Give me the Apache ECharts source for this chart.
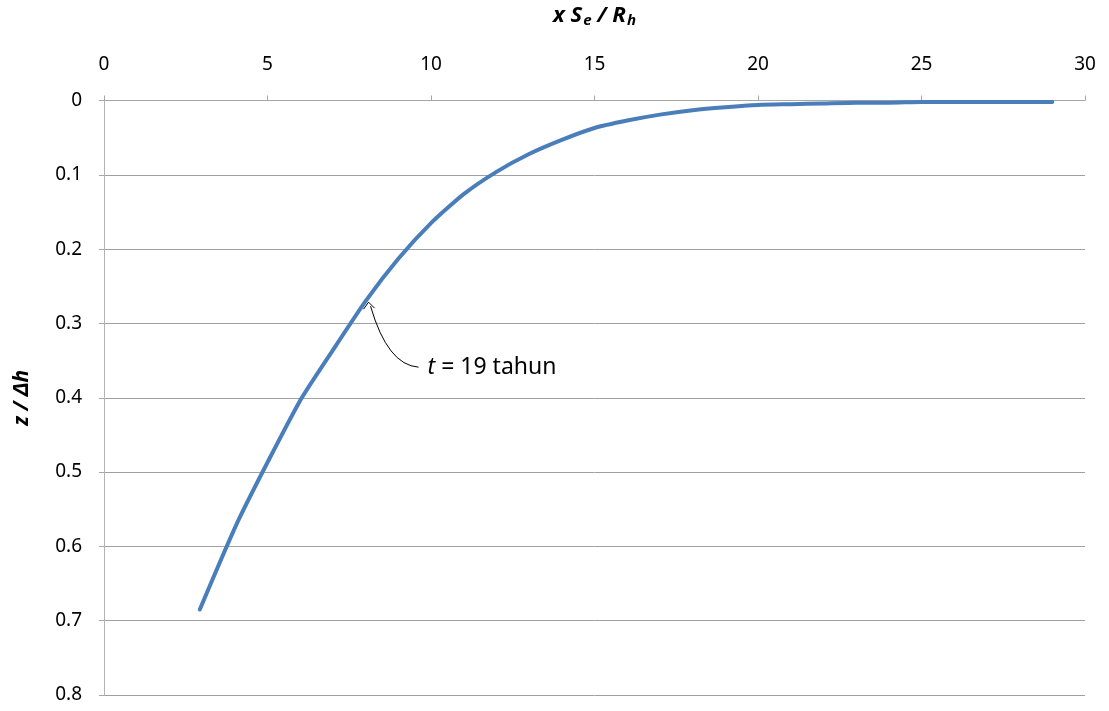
<!DOCTYPE html>
<html>
<head>
<meta charset="utf-8">
<script src="https://cdn.jsdelivr.net/npm/echarts@6/dist/echarts.min.js"></script>
<style>
    html, body { margin: 0; padding: 0; background: #ffffff; }
    #chart { width: 1109px; height: 711px; }
</style>
</head>
<body>
<div id="chart"></div>
<script>
    // x S_e / R_h
    var xValues = [2.93, 4.13, 5.97, 7, 8, 9, 10, 11, 12, 13, 14, 15, 16, 17, 18, 19, 20, 21, 22, 23, 24, 25, 26, 27, 28, 29];
    // z / dh
    var zValues = [0.685, 0.563, 0.406, 0.336, 0.27, 0.213, 0.165, 0.126, 0.096, 0.072, 0.053, 0.037, 0.027, 0.019, 0.013, 0.009, 0.006, 0.005, 0.004, 0.003, 0.003, 0.002, 0.002, 0.002, 0.002, 0.002];
    // where the note points
    var notePoint = [8.06, 0.27];
    var noteText = '19 tahun';

    var fontName = 'Noto Sans';
    var chart = echarts.init(document.getElementById('chart'));

    var points = [];
    for (var i = 0; i < xValues.length; i++) {
        points.push([xValues[i], zValues[i]]);
    }

    var option = {
        animation: false,
        textStyle: { fontFamily: fontName },
        grid: {
            left: 104,
            right: 24,
            top: 99,
            bottom: 16
        },
        xAxis: {
            type: 'value',
            position: 'top',
            min: 0,
            max: 30,
            interval: 5,
            name: '{b|x S}{s|e}{b| / R}{s|h}',
            nameLocation: 'middle',
            nameGap: 72,
            nameTextStyle: {
                rich: {
                    b: { fontFamily: fontName, fontSize: 22, fontWeight: 'bold', fontStyle: 'italic', color: '#000' },
                    s: { fontFamily: fontName, fontSize: 15, fontWeight: 'bold', fontStyle: 'italic', color: '#000', padding: [10, 0, 0, 1] }
                }
            },
            axisLine: { onZero: false, lineStyle: { color: '#a6a6a6', width: 1 } },
            axisTick: { inside: false, length: 5, lineStyle: { color: '#a6a6a6' } },
            axisLabel: { color: '#000', fontSize: 19, margin: 26 },
            splitLine: { show: false }
        },
        yAxis: {
            type: 'value',
            inverse: true,
            min: 0,
            max: 0.8,
            interval: 0.1,
            name: 'z / Δh',
            nameLocation: 'middle',
            nameGap: 71,
            nameRotate: 90,
            nameTextStyle: { color: '#000', fontSize: 21, fontWeight: 'bold', fontStyle: 'italic' },
            axisLine: { show: true, onZero: false, lineStyle: { color: '#b3b3b3', width: 1 } },
            axisTick: { show: true, length: 5, lineStyle: { color: '#a6a6a6' } },
            axisLabel: {
                color: '#000',
                fontSize: 19,
                margin: 22,
                formatter: function (v) { return String(+v.toFixed(1)); }
            },
            splitLine: { show: true, lineStyle: { color: '#a0a0a0', width: 1 } }
        },
        series: [
            {
                type: 'line',
                data: points,
                showSymbol: false,
                smooth: 0.2,
                lineStyle: { color: '#4a7ebb', width: 4, cap: 'round', join: 'round' },
                itemStyle: { color: '#4a7ebb' }
            }
        ]
    };
    chart.setOption(option);

    // annotation: curved arrow + label, placed from data coordinates
    var tip = chart.convertToPixel({ gridIndex: 0 }, notePoint);
    var tx = tip[0], ty = tip[1];
    var endX = tx + 51, endY = ty + 66;
    chart.setOption({
        graphic: [
            {
                type: 'bezierCurve',
                shape: {
                    x1: endX, y1: endY,
                    x2: tx + 3, y2: ty + 5,
                    cpx1: tx + 20, cpy1: endY - 2
                },
                style: { stroke: '#000', lineWidth: 1, fill: null }
            },
            {
                type: 'polyline',
                shape: { points: [[tx - 4, ty + 8], [tx + 1, ty + 1], [tx + 7, ty + 7]] },
                style: { stroke: '#000', lineWidth: 1, fill: null }
            },
            {
                type: 'text',
                x: endX + 9,
                y: endY,
                style: {
                    text: '{i|t}{n| = ' + noteText + '}',
                    verticalAlign: 'middle',
                    rich: {
                        i: { fontFamily: fontName, fontSize: 23, fontStyle: 'italic', fill: '#000' },
                        n: { fontFamily: fontName, fontSize: 23, fill: '#000' }
                    }
                }
            }
        ]
    });
</script>
</body>
</html>
